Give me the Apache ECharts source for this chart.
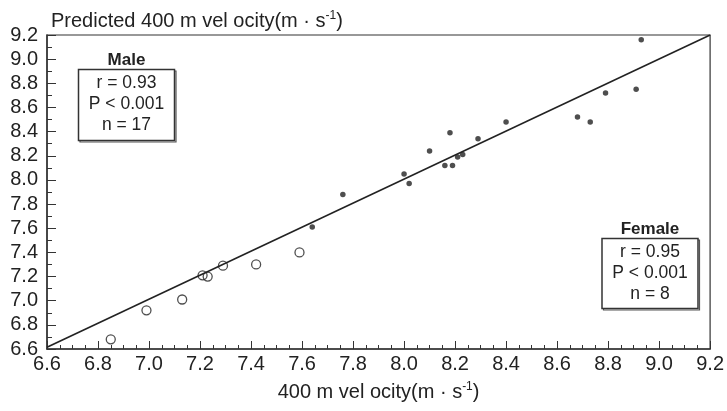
<!DOCTYPE html>
<html>
<head>
<meta charset="utf-8">
<script src="https://cdn.jsdelivr.net/npm/echarts@6/dist/echarts.min.js"></script>
<style>
html,body{margin:0;padding:0;background:#fff;}
#chart{width:727px;height:411px;}
</style>
</head>
<body>
<div id="chart"></div>
<script>
// ---- data ----
const maleX = [7.64, 7.76, 8.00, 8.02, 8.10, 8.16, 8.18, 8.19, 8.21, 8.23, 8.29, 8.40, 8.68, 8.73, 8.79, 8.91, 8.93];
const maleY = [7.61, 7.88, 8.05, 7.97, 8.24, 8.12, 8.39, 8.12, 8.19, 8.21, 8.34, 8.48, 8.52, 8.48, 8.72, 8.75, 9.16];
const femaleX = [6.85, 6.99, 7.13, 7.21, 7.23, 7.29, 7.42, 7.59];
const femaleY = [6.68, 6.92, 7.01, 7.21, 7.20, 7.29, 7.30, 7.40];
const fitX = [6.6, 9.2];
const fitY = [6.615, 9.2];
const axisMin = 6.6, axisMax = 9.2, axisStep = 0.2;
const maleStats = ['r = 0.93', 'P < 0.001', 'n = 17'];
const femaleStats = ['r = 0.95', 'P < 0.001', 'n = 8'];
const yTitle = 'Predicted 400 m vel ocity(m · s';
const xTitle = '400 m vel ocity(m · s';
const supText = '-1';

const zip = (xs, ys) => xs.map((x, i) => [x, ys[i]]);
const FONT = 'Liberation Sans, Arial, Helvetica, sans-serif';
const INK = '#222';

const chart = echarts.init(document.getElementById('chart'), null, {renderer: 'canvas'});

function statBox(cx, titleY, boxTop, boxW, boxH, title, lines) {
  const els = [];
  els.push({
    type: 'rect', shape: {x: cx - boxW / 2 + 1.5, y: boxTop + 1.5, width: boxW, height: boxH},
    style: {fill: 'none', stroke: '#555', lineWidth: 1.2}, z: 9
  });
  els.push({
    type: 'rect', shape: {x: cx - boxW / 2, y: boxTop, width: boxW, height: boxH},
    style: {fill: '#fff', stroke: '#333', lineWidth: 1.5}, z: 10
  });
  els.push({
    type: 'text', x: cx, y: titleY, z: 11,
    style: {text: title, font: 'bold 17px ' + FONT, fill: INK, align: 'center', verticalAlign: 'middle'}
  });
  lines.forEach((t, i) => {
    els.push({
      type: 'text', x: cx, y: boxTop + 13.5 + i * 21, z: 11,
      style: {text: t, font: '17.5px ' + FONT, fill: INK, align: 'center', verticalAlign: 'middle'}
    });
  });
  return els;
}

const option = {
  backgroundColor: '#fff',
  animation: false,
  textStyle: {fontFamily: FONT},
  title: {
    text: yTitle + '{sup|' + supText + '}{base|)}',
    left: 46, top: 5,
    textStyle: {
      fontSize: 20, fontWeight: 'normal', color: INK, fontFamily: FONT,
      rich: {
        sup: {fontSize: 12, verticalAlign: 'top', lineHeight: 22, color: INK, fontFamily: FONT},
        base: {fontSize: 20, color: INK, fontFamily: FONT}
      }
    }
  },
  grid: {
    left: 47, right: 14, top: 35, bottom: 62,
    show: true, borderColor: '#333', borderWidth: 1.2, backgroundColor: 'transparent'
  },
  xAxis: {
    type: 'value', min: axisMin, max: axisMax, interval: axisStep,
    name: xTitle + '{sup|' + supText + '}{base|)}',
    nameLocation: 'middle', nameGap: 32,
    nameTextStyle: {
      fontSize: 20, color: INK, fontFamily: FONT,
      rich: {
        sup: {fontSize: 12, verticalAlign: 'top', lineHeight: 22, color: INK, fontFamily: FONT},
        base: {fontSize: 20, color: INK, fontFamily: FONT}
      }
    },
    axisLine: {show: true, onZero: false, lineStyle: {color: '#333', width: 1.5}},
    axisTick: {show: true, inside: true, length: 8, lineStyle: {color: '#333', width: 1}},
    minorTick: {show: true, splitNumber: 4, length: 4, lineStyle: {color: '#333', width: 1}},
    splitLine: {show: false},
    axisLabel: {fontSize: 20, color: INK, margin: 5, fontFamily: FONT,
      formatter: v => v.toFixed(1)}
  },
  yAxis: {
    type: 'value', min: axisMin, max: axisMax, interval: axisStep,
    axisLine: {show: true, onZero: false, lineStyle: {color: '#333', width: 1.5}},
    axisTick: {show: true, inside: true, length: 9, lineStyle: {color: '#333', width: 1}},
    minorTick: {show: true, splitNumber: 2, length: 5, lineStyle: {color: '#333', width: 1}},
    splitLine: {show: false},
    axisLabel: {fontSize: 20, color: INK, margin: 9, fontFamily: FONT,
      formatter: v => v.toFixed(1)}
  },
  series: [
    {
      name: 'fit', type: 'line', data: zip(fitX, fitY), symbol: 'none',
      lineStyle: {color: INK, width: 1.6}, z: 2, silent: true
    },
    {
      name: 'Female', type: 'scatter', data: zip(femaleX, femaleY), symbol: 'circle', symbolSize: 9,
      itemStyle: {color: 'rgba(0,0,0,0)', borderColor: INK, borderWidth: 1.3}, z: 3
    },
    {
      name: 'Male', type: 'scatter', data: zip(maleX, maleY), symbol: 'circle', symbolSize: 5.5,
      itemStyle: {color: INK}, z: 4
    }
  ],
  graphic: [
    ...statBox(126.5, 60.5, 69.5, 96, 71, 'Male', maleStats),
    ...statBox(650, 229.5, 238.5, 96, 70, 'Female', femaleStats)
  ]
};
chart.setOption(option);
</script>
</body>
</html>
